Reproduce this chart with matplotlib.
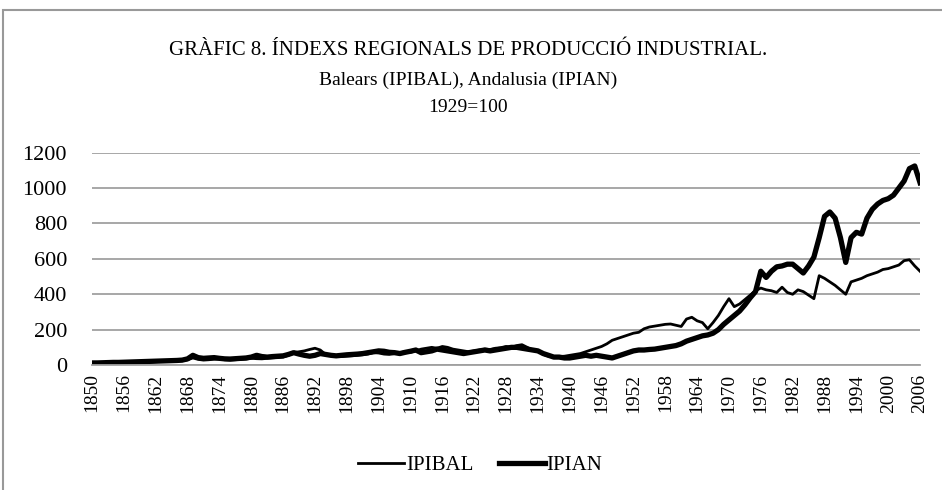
import numpy as np
import matplotlib.pyplot as plt
from matplotlib.patches import Rectangle

# Anys 1850-2006 i índexs (1929=100)
years = list(range(1850, 2007))

ipibal = [
    10, 11, 12, 13, 13, 14, 15, 15, 16, 17,
    18, 18, 19, 20, 21, 22, 22, 24, 30, 40,
    32, 28, 30, 33, 34, 30, 28, 30, 32, 34,
    38, 36, 35, 38, 40, 42, 45, 55, 70, 75,
    80, 88, 95, 85, 60, 55, 50, 48, 50, 52,
    55, 58, 62, 70, 68, 62, 60, 65, 70, 75,
    72, 80, 90, 95, 100, 95, 105, 100, 90, 85,
    80, 75, 80, 85, 90, 88, 95, 98, 105, 100,
    110, 115, 100, 85, 80, 60, 50, 45, 48, 50,
    55, 60, 65, 75, 85, 95, 105, 120, 140, 150,
    160, 170, 180, 185, 205, 215, 220, 225, 230, 232,
    225, 218, 260, 270, 250, 240, 205, 240, 280, 330,
    375, 330, 345, 370, 395, 420, 435, 425, 420, 410,
    440, 410, 400, 425, 415, 395, 375, 505, 490, 470,
    450, 425, 400, 470, 480, 490, 505, 515, 525, 540,
    545, 555, 565, 590, 595, 560, 530,
]

ipian = [
    12, 12, 13, 14, 15, 15, 16, 17, 18, 19,
    20, 21, 22, 23, 24, 25, 26, 28, 35, 55,
    42, 38, 40, 42, 38, 35, 34, 36, 38, 40,
    45, 55, 48, 45, 48, 50, 52, 60, 70, 62,
    55, 50, 55, 65, 60, 55, 52, 55, 58, 60,
    62, 65, 70, 75, 80, 78, 72, 70, 65, 72,
    78, 85, 70, 75, 80, 90, 85, 80, 75, 70,
    65, 70, 75, 80, 85, 80, 85, 90, 95, 100,
    100, 95, 90, 85, 80, 65, 55, 45, 45, 40,
    40, 45, 50, 55, 50, 55, 50, 45, 40, 50,
    60, 70, 80, 85, 85, 88, 90, 95, 100, 105,
    110, 120, 135, 145, 155, 165, 170, 180, 200, 230,
    255, 280, 305, 340, 380, 415, 530, 495, 530, 555,
    560, 570, 570, 545, 520, 560, 610, 720, 840, 865,
    830, 720, 580, 720, 750, 740, 830, 880, 910, 930,
    940, 960, 1000, 1040, 1110, 1125, 1030,
]

plt.rcParams['font.family'] = ['Liberation Serif', 'DejaVu Serif']

fig = plt.figure(figsize=(9.42, 4.90), dpi=100)
ax = fig.add_axes([0.0977, 0.255, 0.879, 0.4334])

ax.plot(years, ipibal, color='black', lw=2.0, label='IPIBAL', solid_joinstyle='round')
ax.plot(years, ipian, color='black', lw=3.8, label='IPIAN', solid_joinstyle='round')

ax.set_xlim(1850, 2006)
ax.set_ylim(0, 1200)
ax.set_yticks(range(0, 1201, 200))
ax.set_xticks(range(1850, 2007, 6))
ax.set_xticklabels([str(y) for y in range(1850, 2007, 6)], rotation=90, fontsize=14)
ax.tick_params(axis='y', labelsize=16, length=0, pad=18)
ax.tick_params(axis='x', length=0, pad=6)
ax.grid(axis='y', color='#a0a0a0', lw=1.3)
ax.set_axisbelow(True)
for s in ['top', 'right', 'left']:
    ax.spines[s].set_visible(False)
ax.spines['bottom'].set_color('#a0a0a0')
ax.spines['bottom'].set_linewidth(1.3)

fig.text(0.497, 0.897, 'GRÀFIC 8. ÍNDEXS REGIONALS DE PRODUCCIÓ INDUSTRIAL.',
         ha='center', va='center', fontsize=15)
fig.text(0.497, 0.837, 'Balears (IPIBAL), Andalusia (IPIAN)',
         ha='center', va='center', fontsize=14)
fig.text(0.497, 0.780, '1929=100', ha='center', va='center', fontsize=14)

fig.legend(loc='center', bbox_to_anchor=(0.51, 0.05), ncol=2, frameon=False,
           fontsize=15, handlelength=2.2, handletextpad=0.1, columnspacing=1.2)

# marc gris del gràfic
fig.patches.append(Rectangle((3 / 942, -0.05), 1.1, 1 - 10 / 490 + 0.05,
                             transform=fig.transFigure, fill=False,
                             edgecolor='#999999', lw=1.5))

fig.savefig('out.png', dpi=100)
